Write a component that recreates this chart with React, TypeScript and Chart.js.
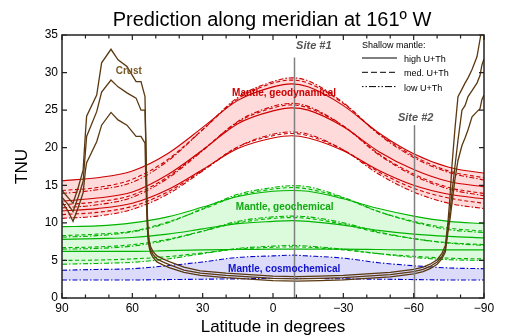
import React, { useEffect, useRef } from 'react';
import { Chart, registerables } from 'chart.js';

Chart.register(...registerables);

const FONT = '"Liberation Sans", Arial, Helvetica, sans-serif';

// ---- Mantle model latitudes (degrees, +N / -S)
const mantleLat = [90, 75, 60, 45, 30, 15, 0, -8, -15, -30, -45, -60, -75, -90];

// Mantle, geodynamical (upper / central / lower estimate) for high, med, low shallow-mantle U+Th
const geodynUpperHigh = [15.6, 16.0, 16.9, 19.2, 22.7, 26.3, 28.1, 28.5, 28.1, 25.6, 22.0, 19.2, 17.4, 16.6];
const geodynUpperMed = [14.3, 14.7, 15.8, 18.4, 22.4, 26.5, 28.6, 29.0, 28.6, 25.9, 21.9, 18.9, 16.9, 16.0];
const geodynUpperLow = [13.9, 14.4, 15.4, 18.2, 22.4, 26.7, 28.8, 29.3, 28.9, 26.0, 21.8, 18.7, 16.7, 15.7];
const geodynCentralHigh = [12.9, 13.3, 14.1, 16.4, 19.7, 23.2, 24.9, 25.3, 25.0, 22.8, 19.5, 17.1, 15.5, 14.8];
const geodynCentralMed = [12.4, 12.8, 13.7, 16.1, 19.7, 23.4, 25.3, 25.7, 25.3, 22.9, 19.2, 16.5, 14.7, 13.9];
const geodynCentralLow = [12.0, 12.4, 13.4, 15.9, 19.6, 23.5, 25.5, 25.9, 25.5, 22.9, 19.1, 16.3, 14.5, 13.6];
const geodynLowerHigh = [11.6, 11.9, 12.6, 14.4, 17.1, 19.9, 21.3, 21.6, 21.3, 19.6, 17.0, 15.0, 13.8, 13.2];
const geodynLowerMed = [11.1, 11.4, 12.2, 14.1, 17.0, 20.1, 21.6, 21.9, 21.6, 19.7, 16.8, 14.6, 13.3, 12.6];
const geodynLowerLow = [10.6, 10.9, 11.8, 13.8, 16.9, 20.1, 21.8, 22.1, 21.8, 19.7, 16.5, 14.1, 12.6, 11.9];

// Mantle, geochemical
const geochemUpperHigh = [9.5, 9.6, 10.0, 10.8, 12.1, 13.5, 14.2, 14.3, 14.2, 13.2, 11.9, 10.9, 10.2, 9.9];
const geochemUpperMed = [8.3, 8.5, 8.9, 10.1, 11.8, 13.6, 14.5, 14.7, 14.5, 13.3, 11.5, 10.2, 9.3, 8.9];
const geochemUpperLow = [8.1, 8.3, 8.8, 10.0, 11.9, 13.8, 14.7, 14.95, 14.8, 13.4, 11.5, 10.1, 9.1, 8.7];
const geochemCentralHigh = [7.8, 7.9, 8.05, 8.5, 9.2, 9.9, 10.2, 10.3, 10.2, 9.7, 9.0, 8.5, 8.2, 8.0];
const geochemCentralMed = [6.7, 6.8, 7.1, 7.8, 8.9, 10.0, 10.6, 10.7, 10.6, 9.8, 8.7, 7.9, 7.35, 7.1];
const geochemCentralLow = [6.5, 6.6, 6.9, 7.7, 8.9, 10.2, 10.8, 10.9, 10.8, 10.0, 8.8, 7.9, 7.3, 7.0];
const geochemLowerHigh = [6.2, 6.2, 6.2, 6.3, 6.4, 6.45, 6.5, 6.5, 6.5, 6.5, 6.45, 6.4, 6.4, 6.4];
const geochemLowerMed = [5.0, 5.05, 5.2, 5.5, 6.0, 6.5, 6.75, 6.8, 6.75, 6.4, 5.9, 5.55, 5.3, 5.2];
const geochemLowerLow = [4.5, 4.6, 4.75, 5.2, 5.9, 6.6, 6.9, 7.0, 6.9, 6.5, 5.9, 5.4, 5.1, 5.0];

// Mantle, cosmochemical
const cosmoUpperLow = [3.7, 3.8, 3.9, 4.3, 4.8, 5.4, 5.6, 5.7, 5.6, 5.3, 4.7, 4.3, 4.0, 3.9];
const cosmoLowerLow = [2.4, 2.4, 2.4, 2.45, 2.5, 2.55, 2.6, 2.6, 2.6, 2.55, 2.5, 2.45, 2.4, 2.4];

// ---- Crust
const crustLat = [90, 87.5, 85.3, 83, 81, 80, 79.5, 75.2, 73.1, 69.1, 66.1, 62.3, 58.4, 56.3, 54.6, 54.2, 53.7, 53.3, 52.8, 52.2, 51.2, 49.5, 47, 44, 38, 31, 20, 10, 0, -10, -20, -30, -40, -50, -60, -64, -67, -70, -72, -73.5, -74.6, -75.5, -76.3, -77.6, -78.9, -80.6, -81.9, -83.2, -84.9, -87, -88.3, -89.1, -90];
const crustUpper = [14.3, 13.4, 12.6, 14.8, 17.0, 22.0, 24.2, 27.0, 31.3, 33.1, 31.7, 30.8, 28.8, 28.8, 26.8, 20.0, 12.0, 9.0, 7.6, 6.8, 6.2, 5.6, 5.2, 4.8, 4.1, 3.6, 3.3, 3.1, 2.9, 2.85, 2.9, 3.0, 3.2, 3.4, 3.8, 4.1, 4.5, 5.1, 5.9, 7.0, 10.0, 13.5, 17.5, 22.5, 26.8, 27.8, 28.6, 29.3, 30.4, 32.1, 34.4, 35.8, 37.0];
const crustMid = [13.4, 12.5, 11.5, 13.5, 15.5, 19.5, 21.5, 24.8, 27.4, 29.0, 28.1, 27.3, 26.6, 25.0, 25.0, 20.0, 11.5, 8.5, 7.2, 6.4, 5.8, 5.2, 4.8, 4.4, 3.7, 3.3, 3.0, 2.8, 2.6, 2.55, 2.6, 2.7, 2.9, 3.1, 3.5, 3.8, 4.2, 4.8, 5.5, 6.5, 9.3, 11.6, 13.9, 17.5, 21.0, 25.0, 25.6, 26.8, 27.6, 28.6, 29.6, 31.0, 31.8];
const crustLower = [12.8, 11.6, 10.2, 12.1, 14.0, 17.0, 18.0, 20.8, 23.0, 24.7, 23.7, 23.0, 21.5, 21.5, 20.6, 15.0, 10.0, 7.8, 6.7, 6.0, 5.4, 4.8, 4.4, 4.0, 3.4, 3.0, 2.7, 2.5, 2.3, 2.25, 2.3, 2.4, 2.6, 2.8, 3.2, 3.5, 3.9, 4.5, 5.2, 6.1, 8.7, 10.5, 12.5, 15.8, 18.3, 20.3, 21.3, 22.4, 24.1, 24.8, 25.2, 26.4, 27.0];

// ---- Sites
const siteNames = ['Site #1', 'Site #2'];
const siteLat = [-9, -60];
const siteTop = [32.0, 23.0];
const siteLabelY = [33.6, 24.0];

// ---- Axes
const xTickValues = [90, 60, 30, 0, -30, -60, -90];
const yTickValues = [0, 5, 10, 15, 20, 25, 30, 35];

const legendItems = ['high U+Th', 'med. U+Th', 'low U+Th'];

const DASH: Record<string, number[]> = {
  high: [],
  med: [4, 2.5],
  low: [5, 2, 1.5, 2],
};
const LEGEND_DASH = [[], [6, 3], [1.5, 2, 1.5, 2, 7, 2]];

const RED = '#cc0000';
const RED_FILL = '#ffdada';
const GREEN = '#00b400';
const GREEN_FILL = '#dcfadc';
const BLUE = '#0000cc';
const BLUE_FILL = '#dcdcfa';
const BROWN = '#5a3810';

const pts = (lat: number[], vals: number[]) => lat.map((x, i) => ({ x, y: vals[i] }));

function buildDatasets() {
  const ds: any[] = [];
  const line = (lat: number[], vals: number[], color: string, dash: number[], width = 1.1, mono = true) => {
    ds.push({
      data: pts(lat, vals),
      borderColor: color,
      borderDash: dash,
      borderWidth: width,
      pointRadius: 0,
      fill: false,
      tension: mono ? 0.4 : 0,
      cubicInterpolationMode: mono ? 'monotone' : 'default',
    });
    return ds.length - 1;
  };
  // crust on top
  line(crustLat, crustUpper, BROWN, [], 1.3, false);
  line(crustLat, crustMid, BROWN, [], 1.3, false);
  line(crustLat, crustLower, BROWN, [], 1.3, false);

  const band = (sets: [number[], string][], color: string, fillColor: string, tops: number[][], bottom: number[]) => {
    sets.forEach(([vals, variant]) => line(mantleLat, vals, color, DASH[variant]));
    const bIdx = ds.length;
    ds.push({ data: pts(mantleLat, bottom), borderWidth: 0, borderColor: 'transparent', pointRadius: 0, fill: false, cubicInterpolationMode: 'monotone' });
    tops.forEach((t) => {
      ds.push({
        data: pts(mantleLat, t),
        borderWidth: 0,
        borderColor: 'transparent',
        pointRadius: 0,
        cubicInterpolationMode: 'monotone',
        fill: { target: bIdx, above: fillColor, below: fillColor },
        backgroundColor: fillColor,
      });
    });
  };

  band(
    [
      [geodynUpperHigh, 'high'], [geodynUpperMed, 'med'], [geodynUpperLow, 'low'],
      [geodynCentralHigh, 'high'], [geodynCentralMed, 'med'], [geodynCentralLow, 'low'],
      [geodynLowerHigh, 'high'], [geodynLowerMed, 'med'], [geodynLowerLow, 'low'],
    ],
    RED, RED_FILL, [geodynUpperHigh, geodynUpperLow], geodynLowerLow,
  );
  band(
    [
      [geochemUpperHigh, 'high'], [geochemUpperMed, 'med'], [geochemUpperLow, 'low'],
      [geochemCentralHigh, 'high'], [geochemCentralMed, 'med'], [geochemCentralLow, 'low'],
      [geochemLowerHigh, 'high'], [geochemLowerMed, 'med'], [geochemLowerLow, 'low'],
    ],
    GREEN, GREEN_FILL, [geochemUpperHigh, geochemUpperLow], geochemLowerLow,
  );
  band(
    [[cosmoUpperLow, 'low'], [cosmoLowerLow, 'low']],
    BLUE, BLUE_FILL, [cosmoUpperLow], cosmoLowerLow,
  );
  return ds;
}

const decor = {
  id: 'decor',
  afterDatasetsDraw(chart: any) {
    const { ctx, scales } = chart;
    const x = scales.x, y = scales.y;
    ctx.save();
    ctx.strokeStyle = '#808080';
    ctx.lineWidth = 1.5;
    siteLat.forEach((lat, i) => {
      const px = Math.round(x.getPixelForValue(lat)) + 0.5;
      ctx.beginPath();
      ctx.moveTo(px, y.getPixelForValue(0));
      ctx.lineTo(px, y.getPixelForValue(siteTop[i]));
      ctx.stroke();
    });
    ctx.restore();
  },
  afterDraw(chart: any) {
    const { ctx, chartArea: a, scales } = chart;
    const x = scales.x, y = scales.y;
    ctx.save();
    // frame
    ctx.strokeStyle = '#222';
    ctx.lineWidth = 1.5;
    ctx.strokeRect(a.left, a.top, a.right - a.left, a.bottom - a.top);
    // ticks
    ctx.lineWidth = 1.2;
    for (let v = -90; v <= 90; v += 10) {
      const px = x.getPixelForValue(v);
      const len = v % 30 === 0 ? 5 : 3.5;
      ctx.beginPath();
      ctx.moveTo(px, a.bottom); ctx.lineTo(px, a.bottom - len);
      ctx.moveTo(px, a.top); ctx.lineTo(px, a.top + len);
      ctx.stroke();
    }
    yTickValues.forEach((v) => {
      const py = y.getPixelForValue(v);
      ctx.beginPath();
      ctx.moveTo(a.left, py); ctx.lineTo(a.left + 5, py);
      ctx.moveTo(a.right, py); ctx.lineTo(a.right - 5, py);
      ctx.stroke();
    });
    // titles
    ctx.fillStyle = '#000';
    ctx.textAlign = 'center';
    ctx.textBaseline = 'middle';
    ctx.font = `20px ${FONT}`;
    ctx.fillText('Prediction along meridian at 161\u00BA W', (a.left + a.right) / 2 - 1, 20);
    ctx.font = `17px ${FONT}`;
    ctx.fillText('Latitude in degrees', (a.left + a.right) / 2, 327);
    ctx.save();
    ctx.translate(22, (a.top + a.bottom) / 2);
    ctx.rotate(-Math.PI / 2);
    ctx.fillText('TNU', 0, 0);
    ctx.restore();

    // model labels
    ctx.font = `bold 10px ${FONT}`;
    ctx.fillStyle = '#7a5828';
    ctx.fillText('Crust', x.getPixelForValue(61.5), y.getPixelForValue(30.2));
    ctx.fillStyle = RED;
    ctx.fillText('Mantle, geodynamical', x.getPixelForValue(-4.7), y.getPixelForValue(27.2));
    ctx.fillStyle = '#11aa11';
    ctx.fillText('Mantle, geochemical', x.getPixelForValue(-5), y.getPixelForValue(12.05));
    ctx.fillStyle = '#1111cc';
    ctx.fillText('Mantle, cosmochemical', x.getPixelForValue(-4.8), y.getPixelForValue(3.86));

    // site labels
    ctx.font = `italic bold 11px ${FONT}`;
    ctx.fillStyle = '#555';
    ctx.textAlign = 'left';
    ctx.fillText(siteNames[0], x.getPixelForValue(siteLat[0]) + 2, y.getPixelForValue(siteLabelY[0]));
    ctx.textAlign = 'center';
    ctx.fillText(siteNames[1], x.getPixelForValue(siteLat[1]) + 2, y.getPixelForValue(siteLabelY[1]));

    // legend
    const lx = a.right - 122;
    ctx.textAlign = 'left';
    ctx.fillStyle = '#000';
    ctx.font = `9px ${FONT}`;
    ctx.fillText('Shallow mantle:', lx, a.top + 10.5);
    ctx.strokeStyle = '#000';
    ctx.lineWidth = 1;
    legendItems.forEach((t, i) => {
      const ly = a.top + 23 + i * 14.3;
      ctx.setLineDash(LEGEND_DASH[i]);
      ctx.beginPath();
      ctx.moveTo(lx, ly); ctx.lineTo(lx + 35, ly);
      ctx.stroke();
      ctx.setLineDash([]);
      ctx.fillText(t, lx + 42, ly + 1.5);
    });
    ctx.restore();
  },
};

export default function App() {
  const ref = useRef<HTMLCanvasElement | null>(null);
  useEffect(() => {
    if (!ref.current) return;
    const chart = new Chart(ref.current, {
      type: 'line',
      data: { datasets: buildDatasets() },
      options: {
        animation: false,
        responsive: false,
        devicePixelRatio: 1,
        layout: { padding: { left: 0, right: 29, top: 35, bottom: 0 } },
        plugins: {
          legend: { display: false },
          title: { display: false },
          tooltip: { enabled: false },
          filler: { drawTime: 'beforeDatasetsDraw' } as any,
        },
        scales: {
          x: {
            type: 'linear',
            min: -90,
            max: 90,
            reverse: true,
            afterBuildTicks: (s: any) => { s.ticks = xTickValues.map((v) => ({ value: v })); },
            ticks: {
              font: { family: FONT, size: 12 },
              color: '#000',
              padding: 3,
              maxRotation: 0,
              autoSkip: false,
              callback: (v: any) => (Number(v) < 0 ? '\u2212' + Math.abs(Number(v)) : String(v)),
            },
            grid: { display: false, drawTicks: false },
            border: { display: false },
            afterFit: (s: any) => { s.height = 37; },
          },
          y: {
            type: 'linear',
            min: 0,
            max: 35,
            afterBuildTicks: (s: any) => { s.ticks = yTickValues.map((v) => ({ value: v })); },
            ticks: {
              font: { family: FONT, size: 12 },
              color: '#000',
              padding: 4,
              autoSkip: false,
            },
            grid: { display: false, drawTicks: false },
            border: { display: false },
            afterFit: (s: any) => { s.width = 62; },
          },
        },
      },
      plugins: [decor],
    });
    return () => chart.destroy();
  }, []);
  return (
    <div style={{ position: 'absolute', left: 0, top: 0, width: 513, height: 335, background: '#fff' }}>
      <canvas ref={ref} width={513} height={335} style={{ width: 513, height: 335 }} />
    </div>
  );
}
